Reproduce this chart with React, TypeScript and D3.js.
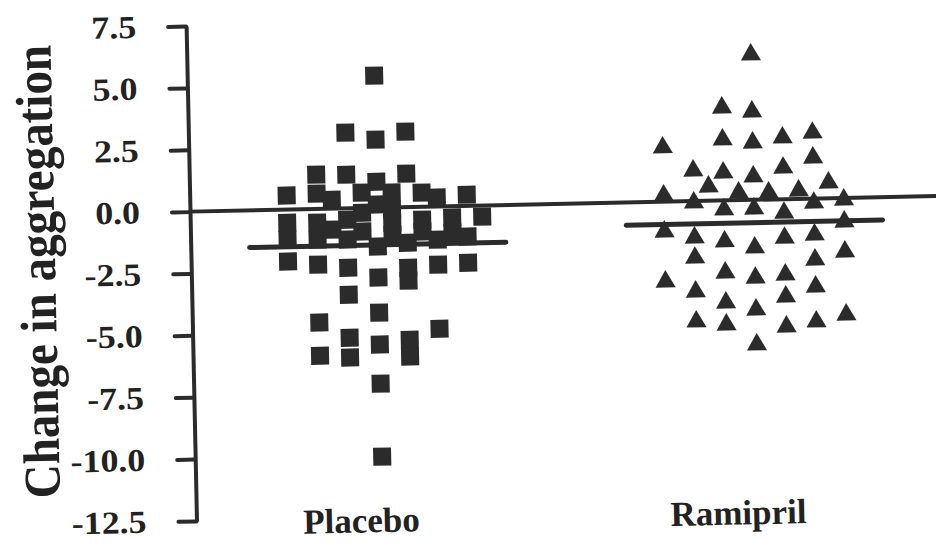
import React, { useEffect, useRef } from 'react';
import * as d3 from 'd3';

// ---- data ----
const categories = ['Placebo', 'Ramipril'];
const yTicks = [7.5, 5.0, 2.5, 0.0, -2.5, -5.0, -7.5, -10.0, -12.5];
const yTitle = 'Change in aggregation';

// horizontal slot (dot-plot column) of each point, and its value
const placeboSlots = [0, -2, 0, 2, -4, -2, 0, 2, -6, -4, -3, -1, 1, 3, 4, 6, -6, -4, -2, 1, 3, 5, 7, -6, -4, -2, 0, 2, 4, 6, -6, -4, -2, 0, 2, 2, 4, 6, -2, 0, -4, -2, 0, 2, 2, 4, -4, -2, 0, 0, -1, 0, 1, -3, -1, 1, 3, 5];
const placeboValues = [5.34, 3.06, 2.75, 3.05, 1.39, 1.36, 1.05, 1.35, 0.57, 0.62, 0.36, 0.62, 0.6, 0.57, 0.36, 0.45, -0.53, -0.55, -0.46, -0.62, -0.52, -0.46, -0.45, -1.21, -1.24, -1.26, -1.57, -1.44, -1.34, -1.24, -2.1, -2.25, -2.4, -2.82, -2.45, -2.97, -2.35, -2.3, -3.49, -4.24, -4.59, -5.23, -5.53, -5.36, -6.04, -4.94, -5.93, -6.03, -7.11, -10.06, -0.19, 0.13, -0.09, -0.85, -0.95, -1.1, -1.0, -1.07];

const ramiprilSlots = [0, -2, 0, -6, -2, 0, 2, 4, 4, 2, -4, -2, 0, -3, 5, -1, 1, 3, -6, -4, 4, 6, -2, 0, 2, 6, -6, -4, -2, -4, 0, 2, 4, 4, 6, -6, -4, -2, 0, 2, 4, -2, 0, 2, -4, -2, 2, 4, 6, 0];
const ramiprilValues = [5.87, 3.75, 3.56, 2.19, 2.46, 2.31, 2.49, 2.66, 1.65, 1.27, 1.23, 1.12, 0.94, 0.57, 0.63, 0.3, 0.28, 0.33, 0.25, -0.06, -0.17, -0.07, -0.37, -0.36, -0.55, -0.96, -1.21, -1.48, -1.66, -2.29, -1.93, -1.56, -1.46, -2.47, -2.17, -3.23, -3.66, -2.92, -3.15, -3.05, -3.56, -4.13, -4.44, -3.94, -4.87, -5.02, -5.15, -4.97, -4.72, -5.85];

const groupMeans = [-1.5, -0.92];

const W = 936;
const H = 542;

export default function App() {
  const ref = useRef<SVGSVGElement>(null);

  useEffect(() => {
    const svg = d3.select(ref.current);
    svg.selectAll('*').remove();

    const axisX = 190;
    const y = d3.scaleLinear().domain([-12.5, 7.5]).range([521, 26]);
    const x = d3.scaleLinear().domain([0, 1]).range([377, 754]);
    const slot = 0.0398;
    const ink = '#2b2b2b';
    const font = "'Liberation Serif', 'Times New Roman', serif";
    const stretch = 1.12;

    const g = svg.append('g').attr('transform', `rotate(-1.2, ${axisX}, ${y(0)})`);

    // zero reference line
    g.append('line')
      .attr('x1', axisX).attr('x2', 960)
      .attr('y1', y(0)).attr('y2', y(0))
      .attr('stroke', ink).attr('stroke-width', 4);

    // y axis
    const ax = g.append('g')
      .attr('transform', `translate(${axisX},0)`)
      .call(
        d3.axisLeft(y)
          .tickValues(yTicks)
          .tickSize(18)
          .tickSizeOuter(0)
          .tickPadding(50 / stretch - 18)
          .tickFormat((d: any) => (+d).toFixed(1))
      );
    ax.select('.domain').attr('stroke', ink).attr('stroke-width', 4);
    ax.selectAll('.tick line').attr('stroke', ink).attr('stroke-width', 4).attr('stroke-linecap', 'round');
    ax.selectAll('.tick text')
      .attr('fill', '#222')
      .attr('transform', `scale(${stretch},1)`)
      .style('font-family', font)
      .style('font-weight', 'bold')
      .style('font-size', '32px');

    // y title
    g.append('text')
      .attr('transform', `translate(54, ${y(-2.3)}) rotate(-90) scale(1,1.1)`)
      .attr('text-anchor', 'middle')
      .attr('fill', '#222')
      .style('font-family', font)
      .style('font-weight', 'bold')
      .style('font-size', '47px')
      .text(yTitle);

    // category labels
    g.selectAll('text.cat')
      .data(categories)
      .join('text')
      .attr('class', 'cat')
      .attr('x', (_d, i) => x(i) - 22)
      .attr('y', 536)
      .attr('text-anchor', 'middle')
      .attr('fill', '#222')
      .style('font-family', font)
      .style('font-weight', 'bold')
      .style('font-size', '35px')
      .text((d) => d);

    // points
    const square = d3.symbol().type(d3.symbolSquare).size(18 * 18)();
    const tri = d3.symbol().type(d3.symbolTriangle).size(175)();

    const placebo = placeboValues.map((v, i) => ({ v, s: placeboSlots[i] }));
    const ramipril = ramiprilValues.map((v, i) => ({ v, s: ramiprilSlots[i] }));

    g.selectAll('path.pl')
      .data(placebo)
      .join('path')
      .attr('class', 'pl')
      .attr('d', square as string)
      .attr('transform', (d) => `translate(${x(0 + d.s * slot)},${y(d.v)})`)
      .attr('fill', ink);

    g.selectAll('path.ra')
      .data(ramipril)
      .join('path')
      .attr('class', 'ra')
      .attr('d', tri as string)
      .attr('transform', (d) => `translate(${x(1 + d.s * slot)},${y(d.v)})`)
      .attr('fill', ink);

    // mean lines
    g.selectAll('line.mean')
      .data(groupMeans)
      .join('line')
      .attr('class', 'mean')
      .attr('x1', (_d, i) => x(i - 0.34))
      .attr('x2', (_d, i) => x(i + 0.34))
      .attr('y1', (d) => y(d))
      .attr('y2', (d) => y(d))
      .attr('stroke', ink)
      .attr('stroke-width', 5)
      .attr('stroke-linecap', 'round');
  }, []);

  return (
    <svg
      ref={ref}
      width={W}
      height={H}
      style={{ position: 'absolute', left: 0, top: 0, background: '#fff' }}
    />
  );
}
